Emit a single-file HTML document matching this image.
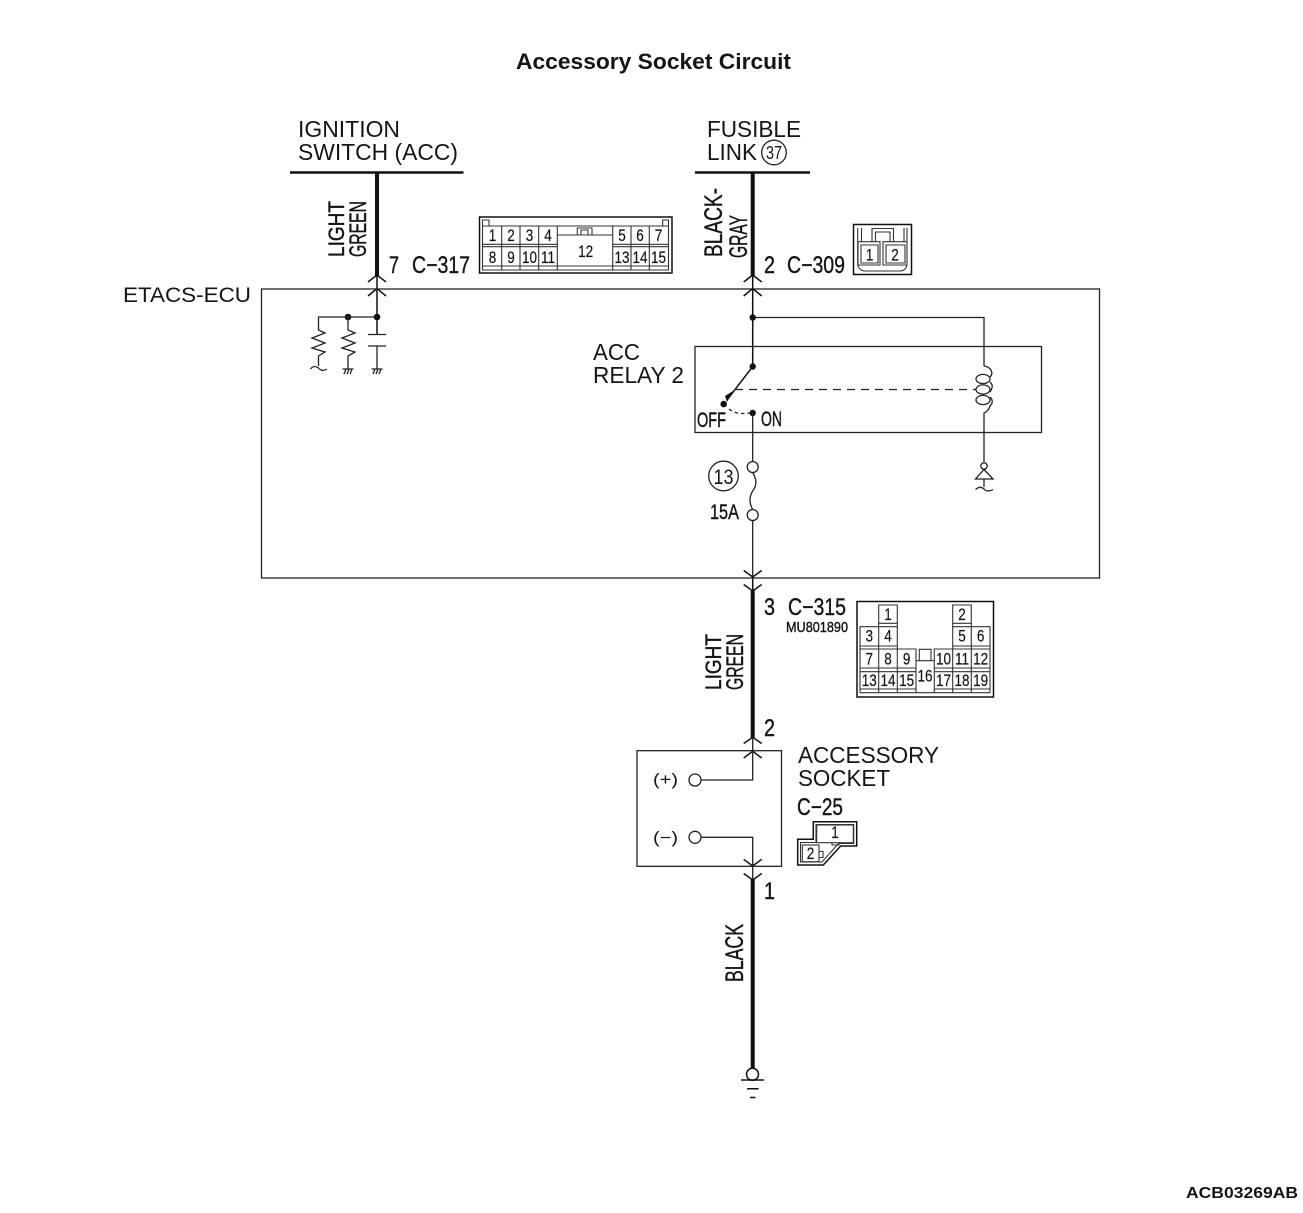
<!DOCTYPE html>
<html><head><meta charset="utf-8"><style>
html,body{margin:0;padding:0;background:#fff;width:1303px;height:1213px;overflow:hidden}
svg{display:block}
text{font-family:"Liberation Sans",sans-serif;fill:#151515}
.n{font-size:16.5px;text-anchor:middle;transform-box:fill-box;transform-origin:center;transform:scaleX(.82);stroke:#151515;stroke-width:.2}
.l{font-size:23px}
.w{stroke:#151515;stroke-width:.4}
.t{fill:none;stroke:#222;stroke-width:1.3}
.m{fill:none;stroke:#111;stroke-width:1.5}
.c{fill:none;stroke:#333;stroke-width:1.1}
.k{fill:none;stroke:#111;stroke-width:4}
.b{fill:none;stroke:#111;stroke-width:2.5}
</style></head><body>
<svg width="1303" height="1213" viewBox="0 0 1303 1213" xmlns="http://www.w3.org/2000/svg">
<rect width="1303" height="1213" fill="#fff"/>
<text x="516" y="69" font-size="22" font-weight="700" textLength="275" lengthAdjust="spacingAndGlyphs">Accessory Socket Circuit</text>
<text x="1186" y="1198" font-size="16" font-weight="700" textLength="112" lengthAdjust="spacingAndGlyphs">ACB03269AB</text>

<!-- Left supply -->
<text class="l" x="298" y="137" textLength="102" lengthAdjust="spacingAndGlyphs">IGNITION</text>
<text class="l" x="298" y="160" textLength="160" lengthAdjust="spacingAndGlyphs">SWITCH (ACC)</text>
<path class="b" d="M290 172.5H463.5"/>
<path class="k" d="M377 172V276"/>
<text class="w" transform="translate(344,257) rotate(-90)" font-size="22" textLength="56" lengthAdjust="spacingAndGlyphs">LIGHT</text>
<text class="w" transform="translate(366,257) rotate(-90)" font-size="24" textLength="56" lengthAdjust="spacingAndGlyphs">GREEN</text>
<text class="w" x="389" y="273" font-size="24" textLength="10" lengthAdjust="spacingAndGlyphs">7</text>
<text class="w" x="412" y="273" font-size="24" textLength="58" lengthAdjust="spacingAndGlyphs">C−317</text>
<path class="m" d="M377 275V334.5M368 282L377 275L386 282M368 296L377 288.5L386 296"/>

<!-- C-317 connector -->
<rect class="m" x="479.5" y="217" width="192.5" height="56"/>
<path class="c" d="M482.5 220V270H668.5V220H662.7V226H489V220ZM483 226H557.3V235H612.7V226H668M483 244.3H557.3M483 246.7H557.3M612.7 244.3H668M612.7 246.7H668M483 266H668M501.7 226V269.5M520 226V269.5M538.7 226V269.5M557.3 226V269.5M612.7 226V269.5M631 226V269.5M649.3 226V269.5M577.3 235V228H592V235M581 235V230H588V235"/>
<g>
<text class="n" x="492.5" y="241">1</text><text class="n" x="511" y="241">2</text><text class="n" x="529.5" y="241">3</text><text class="n" x="548" y="241">4</text>
<text class="n" x="622" y="241">5</text><text class="n" x="640" y="241">6</text><text class="n" x="658.5" y="241">7</text>
<text class="n" x="492.5" y="263">8</text><text class="n" x="511" y="263">9</text><text class="n" x="529.5" y="263">10</text><text class="n" x="548" y="263">11</text>
<text class="n" x="585.7" y="257">12</text>
<text class="n" x="622" y="263">13</text><text class="n" x="640" y="263">14</text><text class="n" x="658.5" y="263">15</text>
</g>

<!-- ECU box -->
<rect class="t" x="261.5" y="289" width="838" height="289"/>
<text x="123" y="302" font-size="21" textLength="128" lengthAdjust="spacingAndGlyphs">ETACS-ECU</text>

<!-- Input network -->
<circle cx="377" cy="317" r="3.3" fill="#111"/><circle cx="348" cy="317" r="3.3" fill="#111"/>
<path class="t" d="M377 317H318.5V330L325 333L312 338L325 343L312 348L325 352L318.5 356V366"/>
<path class="t" d="M310.5 369C313 366 316 366 318.5 368C321 371 324 371 327 369"/>
<path class="t" d="M348 317V330L355 333L342 338L355 343L342 348L355 352L348 356V369"/>
<path class="t" d="M342.5 369H353.5M344 374L346 369M347 374L349 369M350 374L352 369"/>
<path class="t" d="M368 334.5H386M368 346H386M377 346V369M371.5 369H382.5M373 374L375 369M376 374L378 369M379 374L381 369"/>

<!-- Right supply -->
<text class="l" x="707" y="137" textLength="94" lengthAdjust="spacingAndGlyphs">FUSIBLE</text>
<text class="l" x="707" y="160" textLength="50" lengthAdjust="spacingAndGlyphs">LINK</text>
<circle class="t" cx="774" cy="152.5" r="12.3"/>
<text x="774" y="159" font-size="18" text-anchor="middle" textLength="16" lengthAdjust="spacingAndGlyphs">37</text>
<path class="b" d="M695 172.5H810"/>
<path class="k" d="M752.7 172V276"/>
<text class="w" transform="translate(722,257) rotate(-90)" font-size="25" textLength="69" lengthAdjust="spacingAndGlyphs">BLACK-</text>
<text class="w" transform="translate(747,258) rotate(-90)" font-size="25" textLength="43" lengthAdjust="spacingAndGlyphs">GRAY</text>
<text class="w" x="764" y="273" font-size="24" textLength="11" lengthAdjust="spacingAndGlyphs">2</text>
<text class="w" x="787" y="273" font-size="24" textLength="58" lengthAdjust="spacingAndGlyphs">C−309</text>
<path class="m" d="M752.7 275V366.5M743.7 282L752.7 275L761.7 282M743.7 296L752.7 288.5L761.7 296"/>

<!-- C-309 connector -->
<rect class="m" x="853.5" y="224.5" width="58" height="50"/>
<path class="c" d="M857.7 228V265C859 269 861 271 865 271H900C904 271 906 269 907 265V228M861.5 228V242M904 228V242M872 242V228.5H893.5V242M875.5 242V232H890V242M858 241.7H880V265H858ZM883 241.7H907V265H883ZM861 245H878V263H861ZM886 245H905V263H886Z"/>
<text class="n" x="869.7" y="260.5">1</text><text class="n" x="895" y="260.5">2</text>

<!-- Relay -->
<text class="l" x="593" y="360" textLength="47" lengthAdjust="spacingAndGlyphs">ACC</text>
<text class="l" x="593" y="383" textLength="91" lengthAdjust="spacingAndGlyphs">RELAY 2</text>
<rect class="t" x="695" y="346.5" width="346.5" height="86"/>
<path class="t" d="M752.7 317.5H984V366"/>
<circle cx="752.7" cy="317.5" r="3.2" fill="#111"/>
<circle cx="752.7" cy="366.5" r="3.2" fill="#111"/>
<path class="m" d="M752.7 366.5L727 400"/>
<path d="M733 391L725 396L727 402Z" fill="#111"/>
<circle cx="723.7" cy="404" r="3.3" fill="#111"/>
<circle cx="752.7" cy="413" r="3.2" fill="#111"/>
<path class="t" stroke-dasharray="3.5 3" d="M729 409C735 414 742 414 750 413"/>
<path class="t" stroke-dasharray="8 6" d="M735 389.5H976"/>
<text class="w" x="697" y="427" font-size="21" textLength="29" lengthAdjust="spacingAndGlyphs">OFF</text>
<text class="w" x="761" y="426" font-size="21" textLength="21" lengthAdjust="spacingAndGlyphs">ON</text>
<path class="t" d="M984 366C991 367 994 373 990 377M990 382C993 385 993 387 990 392M990 387M990 397C993 400 993 403 990 406C989 409 987 412 984 413V462"/>
<ellipse class="t" cx="983" cy="379" rx="7" ry="4.6"/>
<ellipse class="t" cx="983" cy="389.5" rx="7" ry="4.6"/>
<ellipse class="t" cx="983" cy="400" rx="7" ry="4.6"/>

<!-- Fuse -->
<path class="t" d="M752.7 413V461.5"/>
<circle class="t" cx="752.7" cy="467" r="5.5"/>
<path class="t" d="M752.7 472.5C757 480 757 485 752.7 491C749 497 749 503 752.7 509.5"/>
<circle class="t" cx="752.7" cy="515" r="5.5"/>
<path class="t" d="M752.7 520.5V578"/>
<circle class="t" cx="723.5" cy="476" r="14.8"/>
<text x="723.5" y="484" font-size="21" text-anchor="middle" textLength="20" lengthAdjust="spacingAndGlyphs">13</text>
<text class="w" x="710" y="519" font-size="21" textLength="29" lengthAdjust="spacingAndGlyphs">15A</text>

<!-- Ground symbol coil -->
<circle class="t" cx="984" cy="466" r="3.2" fill="#fff"/>
<path class="t" d="M984 469.5L975.5 479H993ZM984 479V487M975.5 489.5C979 486.5 982 487 984 489C986 491.5 990 491.5 993 489.5"/>

<!-- Output -->
<path class="m" d="M743.7 570.5L752.7 577L761.7 570.5M743.7 584.5L752.7 591L761.7 584.5M752.7 578V591"/>
<path class="k" d="M752.7 590V738"/>
<text class="w" x="764" y="615" font-size="24" textLength="11" lengthAdjust="spacingAndGlyphs">3</text>
<text class="w" x="788" y="615" font-size="24" textLength="58" lengthAdjust="spacingAndGlyphs">C−315</text>
<text class="w" x="786" y="632" font-size="15" textLength="62" lengthAdjust="spacingAndGlyphs">MU801890</text>
<text class="w" transform="translate(721,690) rotate(-90)" font-size="22" textLength="56" lengthAdjust="spacingAndGlyphs">LIGHT</text>
<text class="w" transform="translate(743,690) rotate(-90)" font-size="24" textLength="56" lengthAdjust="spacingAndGlyphs">GREEN</text>

<!-- C-315 connector -->
<rect class="m" x="857" y="601.5" width="136.5" height="95.5"/>
<path class="c" d="M878.7 626.7V605H897.3V626.7M878.7 623.3H897.3M952.7 649V605H971.3V626.7M952.7 623.3H971.3M860 692.7V626.7H897.3V692.7M860 646H897.3M860 649H897.3M971.3 692.7V626.7H990V692.7M952.7 626.7H971.3V646M952.7 646H990M952.7 649H990M860 668H916M860 671.7H916M934.3 668H990M934.3 671.7H990M860 692.7H990M860 689H916M934.3 689H990M878.7 626.7V692.7M897.3 649H916V692.7M934.3 692.7V649H952.7V692.7M971.3 649V692.7M916 660.7H934.3V692.7M919.3 660.7V649.3H931V660.7"/>
<g>
<text class="n" x="888" y="620">1</text><text class="n" x="962" y="620">2</text>
<text class="n" x="869.3" y="641.7">3</text><text class="n" x="888" y="641.7">4</text><text class="n" x="962" y="641.7">5</text><text class="n" x="980.7" y="641.7">6</text>
<text class="n" x="869.3" y="664.3">7</text><text class="n" x="888" y="664.3">8</text><text class="n" x="906.7" y="664.3">9</text><text class="n" x="943.5" y="664.3">10</text><text class="n" x="962" y="664.3">11</text><text class="n" x="980.7" y="664.3">12</text>
<text class="n" x="869.3" y="686">13</text><text class="n" x="888" y="686">14</text><text class="n" x="906.7" y="686">15</text><text class="n" x="925" y="681.7">16</text><text class="n" x="943.5" y="686">17</text><text class="n" x="962" y="686">18</text><text class="n" x="980.7" y="686">19</text>
</g>

<!-- Socket -->
<text class="w" x="764" y="736" font-size="24" textLength="11" lengthAdjust="spacingAndGlyphs">2</text>
<rect class="t" x="637" y="750.7" width="144.5" height="115.6"/>
<path class="m" d="M743.7 743.5L752.7 737.3L761.7 743.5M743.7 758L752.7 751.3L761.7 758"/>
<path class="t" d="M752.7 737.3V780H701"/>
<circle class="t" cx="695" cy="780" r="6"/>
<circle class="t" cx="695" cy="837.3" r="6"/>
<path class="t" d="M701 837.3H752.7V880"/>
<path class="m" d="M743.7 859.3L752.7 866L761.7 859.3M743.7 873.5L752.7 880L761.7 873.5"/>
<text x="653" y="785" font-size="16.5" textLength="25" lengthAdjust="spacingAndGlyphs">(+)</text>
<text x="653" y="843" font-size="16.5" textLength="25" lengthAdjust="spacingAndGlyphs">(−)</text>
<text class="l" x="798" y="763" textLength="141" lengthAdjust="spacingAndGlyphs">ACCESSORY</text>
<text class="l" x="798" y="786" textLength="92" lengthAdjust="spacingAndGlyphs">SOCKET</text>
<text class="w" x="797" y="815" font-size="24" textLength="46" lengthAdjust="spacingAndGlyphs">C−25</text>
<path class="m" d="M813.3 821.7H856.7V846H840.7L823.3 865H797.7V839.3H813.3Z"/>
<path class="c" d="M816 824.5H853.7V843.5H838.5L822 862H800.5V842.5H816Z"/>
<rect class="c" x="816.7" y="825" width="36.6" height="17.7" stroke-width="1.4"/>
<rect class="c" x="802.3" y="845" width="16.7" height="16.7" stroke-width="1.4"/>
<path class="c" d="M832 842.7V845H839V842.7M819 851.5H823V857.5H819"/>
<text class="n" x="835" y="838">1</text><text class="n" x="810.5" y="859">2</text>
<text class="w" x="764" y="899" font-size="24" textLength="11" lengthAdjust="spacingAndGlyphs">1</text>

<!-- Ground -->
<path class="k" d="M752.7 879V1069"/>
<text class="w" transform="translate(743,982) rotate(-90)" font-size="25" textLength="58" lengthAdjust="spacingAndGlyphs">BLACK</text>
<circle cx="752.5" cy="1074.3" r="6" fill="#fff" stroke="#111" stroke-width="1.5"/>
<path class="m" d="M741 1080H764M747 1088.7H758.7M750 1097.5H755.5"/>
</svg>
</body></html>
